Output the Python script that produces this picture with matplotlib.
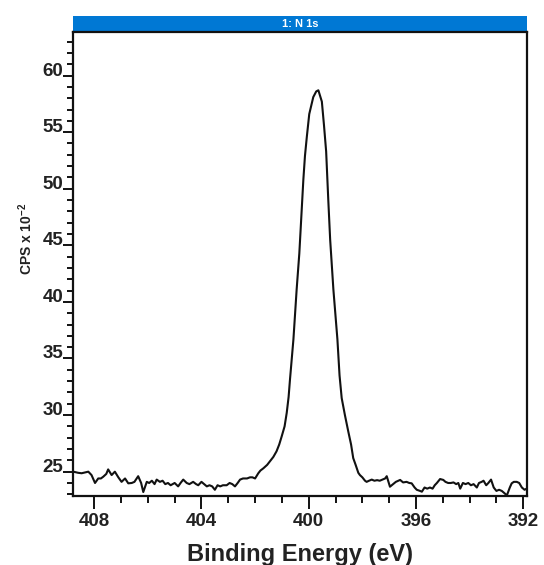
import matplotlib
matplotlib.use("Agg")
import matplotlib.pyplot as plt
from matplotlib.ticker import MultipleLocator, FixedLocator
from matplotlib.patches import Rectangle

plt.rcParams['font.family'] = ['Liberation Sans', 'DejaVu Sans']
plt.rcParams['mathtext.fontset'] = 'custom'
plt.rcParams['mathtext.bf'] = 'Liberation Sans:bold'
plt.rcParams['mathtext.rm'] = 'Liberation Sans:bold'

title_text = "1: N 1s"
x_label = "Binding Energy (eV)"
y_label = r"CPS x 10$^{\mathbf{-2}}$"
x_ticks = [408, 404, 400, 396, 392]
y_ticks = [25, 30, 35, 40, 45, 50, 55, 60]

binding_energy = [
    408.78, 408.6, 408.47, 408.3, 408.22, 408.1, 407.97, 407.85, 407.75, 407.66,
    407.55, 407.48, 407.4, 407.35, 407.23, 407.1, 406.98, 406.85, 406.73, 406.6,
    406.5, 406.36, 406.25, 406.17, 406.04, 405.95, 405.85, 405.75, 405.67, 405.55,
    405.45, 405.35, 405.25, 405.15, 405.0, 404.87, 404.78, 404.68, 404.55, 404.45,
    404.31, 404.2, 404.12, 404.0, 403.9, 403.8, 403.7, 403.6, 403.5, 403.4,
    403.3, 403.2, 403.06, 402.95, 402.85, 402.75, 402.65, 402.56, 402.45, 402.3,
    402.19, 402.1, 402.0, 401.88, 401.8, 401.69, 401.55, 401.45, 401.32, 401.2,
    401.1, 401.01, 400.9, 400.82, 400.75, 400.7, 400.57, 400.45, 400.35, 400.3,
    400.2, 400.14, 400.07, 399.98, 399.83, 399.72, 399.64, 399.51, 399.43, 399.35,
    399.27, 399.2, 399.08, 398.93, 398.85, 398.77, 398.65, 398.52, 398.42, 398.34,
    398.25, 398.15, 398.09, 398.0, 397.9, 397.84, 397.75, 397.65, 397.55, 397.45,
    397.35, 397.25, 397.15, 397.09, 396.97, 396.85, 396.75, 396.65, 396.59, 396.48,
    396.35, 396.25, 396.16, 396.05, 395.97, 395.85, 395.78, 395.68, 395.58, 395.48,
    395.38, 395.3, 395.22, 395.1, 394.98, 394.9, 394.8, 394.7, 394.6, 394.5,
    394.42, 394.35, 394.25, 394.15, 394.05, 393.95, 393.85, 393.73, 393.65, 393.55,
    393.48, 393.38, 393.3, 393.2, 393.1, 393.0, 392.9, 392.8, 392.7, 392.61,
    392.5, 392.43, 392.35, 392.24, 392.15, 392.05, 391.95, 391.87,
]
cps = [
    25.0, 24.9, 24.86, 24.95, 25.0, 24.7, 24.0, 24.4, 24.4, 24.56,
    24.8, 25.2, 24.9, 24.7, 25.0, 24.5, 24.1, 24.4, 23.97, 24.0,
    24.1, 24.6, 24.0, 23.2, 24.1, 24.0, 24.2, 23.9, 24.3, 24.1,
    24.2, 23.9, 24.0, 23.8, 24.0, 23.7, 24.0, 24.3, 24.0, 23.9,
    24.1, 23.9, 23.8, 24.1, 23.9, 23.7, 23.8, 23.7, 23.4, 23.8,
    23.7, 23.8, 23.8, 24.0, 23.9, 23.7, 24.0, 24.3, 24.4, 24.4,
    24.5, 24.5, 24.4, 24.86, 25.1, 25.3, 25.6, 25.9, 26.3, 26.8,
    27.4, 28.1, 29.0, 30.2, 31.6, 33.1, 36.7, 41.1, 44.3, 46.5,
    50.8, 52.9, 54.6, 56.6, 58.1, 58.6, 58.7, 57.7, 55.6, 53.3,
    49.0, 45.5, 41.1, 36.7, 33.5, 31.5, 30.0, 28.5, 27.4, 26.2,
    25.6, 24.9, 24.7, 24.5, 24.2, 24.1, 24.2, 24.3, 24.2, 24.25,
    24.2, 24.3, 24.4, 24.6, 23.67, 23.9, 24.1, 24.2, 24.27, 24.05,
    24.1, 24.0, 23.97, 23.6, 23.4, 23.3, 23.23, 23.6, 23.5, 23.6,
    23.5, 23.8, 24.0, 24.35, 24.27, 24.1, 24.0, 24.0, 24.05, 23.9,
    24.0, 23.5, 24.0, 23.9, 24.0, 23.8, 23.9, 23.6, 24.0, 24.1,
    24.2, 23.8, 24.0, 24.3, 23.6, 23.3, 23.4, 23.3, 23.1, 22.9,
    23.6, 23.97, 24.1, 24.1, 24.0, 23.6, 23.4, 23.5,
]

W, H = 544, 565
fig = plt.figure(figsize=(W / 100, H / 100), dpi=100)
ax_l, ax_r, ax_b, ax_t = 73.3, 526.7, 496, 32
ax = fig.add_axes([ax_l / W, 1 - ax_b / H, (ax_r - ax_l) / W, (ax_b - ax_t) / H])

ax.plot(binding_energy, cps, color='#111111', lw=1.5, solid_joinstyle='round')

ax.set_xlim(408.78, 391.87)
ax.set_ylim(22.85, 63.85)
ax.xaxis.set_major_locator(FixedLocator(x_ticks))
ax.xaxis.set_minor_locator(MultipleLocator(1))
ax.yaxis.set_major_locator(FixedLocator(y_ticks))
ax.yaxis.set_minor_locator(MultipleLocator(1))

for s in ax.spines.values():
    s.set_linewidth(1.6)
    s.set_color('#111111')

ax.tick_params(axis='x', which='major', length=9.4, width=1.4, pad=3, labelsize=13.5,
               color='#111111', labelcolor='#222222', direction='out')
ax.tick_params(axis='x', which='minor', length=4.8, width=1.4, color='#111111', direction='out')
ax.tick_params(axis='y', which='major', length=7.2, width=1.4, pad=0, labelsize=13.5,
               color='#111111', labelcolor='#222222', direction='out')
ax.tick_params(axis='y', which='minor', length=4.1, width=1.4, color='#111111', direction='out')

for lab in ax.get_xticklabels() + ax.get_yticklabels():
    lab.set_fontweight('bold')
for t in ax.yaxis.get_major_ticks():
    t.label1.set_verticalalignment('baseline')

ax.set_xlabel(x_label, fontsize=17, fontweight='bold', color='#222222', va='center')
ax.xaxis.set_label_coords(0.5, -0.125)
ax.set_ylabel(y_label, fontsize=10, fontweight='bold', color='#222222', va='center')
ax.yaxis.set_label_coords(-0.104, 0.554)

bar_h = 16 / (ax_b - ax_t)
ax.add_patch(Rectangle((0, 1.0), 1, bar_h, transform=ax.transAxes, clip_on=False,
                       facecolor='#0078D4', edgecolor='none'))
ax.text(0.5, 1.0 + bar_h / 2, title_text, transform=ax.transAxes, ha='center', va='center',
        color='white', fontsize=8, fontweight='bold')

fig.savefig('out.png', dpi=100)
